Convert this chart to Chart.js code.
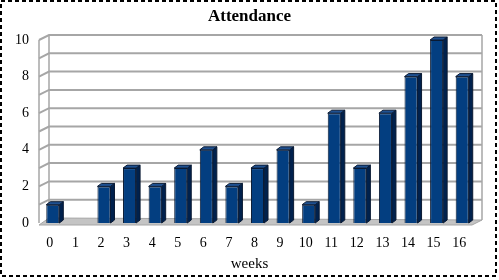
<!DOCTYPE html>
<html lang="en">
<head>
    <meta charset="UTF-8">
    <title>Attendance</title>
    <script src="https://cdn.jsdelivr.net/npm/chart.js"></script>
    <style>
        body { margin: 0; background: white; }
        #wrap { width: 499px; height: 280px; }
    </style>
</head>
<body>
    <div id="wrap"><canvas id="attendanceChart" width="499" height="280"></canvas></div>
    <script>
        // Chart data
        const weeks = ['0', '1', '2', '3', '4', '5', '6', '7', '8', '9', '10', '11', '12', '13', '14', '15', '16'];
        const attendance = [1, 0, 2, 3, 2, 3, 4, 2, 3, 4, 1, 6, 3, 6, 8, 10, 8];
        const yTicks = [0, 2, 4, 6, 8, 10];

        // depth of the walls and of the bars (pixels)
        const WALL_DX = 10, WALL_DY = -5;
        const BAR_DX = 4, BAR_DY = -3;

        const threeD = {
            id: 'threeD',
            beforeDraw(chart) {
                const ctx = chart.ctx;
                ctx.save();
                ctx.fillStyle = '#ffffff';
                ctx.fillRect(0, 0, chart.width, chart.height);
                ctx.strokeStyle = '#000000';
                ctx.lineWidth = 2;
                ctx.setLineDash([4, 3]);
                ctx.strokeRect(1, 1, 495, 275);
                ctx.restore();
            },
            beforeDatasetsDraw(chart) {
                const ctx = chart.ctx;
                const y = chart.scales.y;
                const a = chart.chartArea;
                const fl = a.left - 1, fr = a.right - 3;
                const top = y.getPixelForValue(10), bot = y.getPixelForValue(0);
                ctx.save();
                // floor
                ctx.fillStyle = '#c4c4c4';
                ctx.beginPath();
                ctx.moveTo(fl, bot + 2);
                ctx.lineTo(fr, bot + 2);
                ctx.lineTo(fr + WALL_DX, bot + WALL_DY + 2);
                ctx.lineTo(fl + WALL_DX, bot + WALL_DY);
                ctx.closePath();
                ctx.fill();
                ctx.strokeStyle = '#a6a6a6';
                ctx.lineWidth = 1;
                ctx.stroke();
                // back wall grid
                ctx.strokeStyle = '#a6a6a6';
                ctx.lineWidth = 2;
                for (let v = 1; v <= 10; v++) {
                    const py = y.getPixelForValue(v);
                    ctx.beginPath();
                    ctx.moveTo(fl, py);
                    ctx.lineTo(fl + WALL_DX, py + WALL_DY);
                    ctx.lineTo(fr + WALL_DX, py + WALL_DY);
                    ctx.stroke();
                }
                // wall edges
                ctx.lineWidth = 1.5;
                ctx.beginPath();
                ctx.moveTo(fl, top);
                ctx.lineTo(fl, bot);
                ctx.moveTo(fl + WALL_DX, top + WALL_DY);
                ctx.lineTo(fl + WALL_DX, bot + WALL_DY);
                ctx.moveTo(fr + WALL_DX, top + WALL_DY);
                ctx.lineTo(fr + WALL_DX, bot + WALL_DY + 2);
                ctx.stroke();
                ctx.restore();
            },
            afterDatasetsDraw(chart) {
                const ctx = chart.ctx;
                const meta = chart.getDatasetMeta(0);
                ctx.save();
                ctx.strokeStyle = '#0a1a33';
                ctx.lineWidth = 1;
                meta.data.forEach((bar, i) => {
                    if (!attendance[i]) return;
                    const r = bar.x + bar.width / 2;
                    const l = bar.x - bar.width / 2;
                    // right side
                    ctx.fillStyle = '#00214d';
                    ctx.beginPath();
                    ctx.moveTo(r, bar.base);
                    ctx.lineTo(r, bar.y);
                    ctx.lineTo(r + BAR_DX, bar.y + BAR_DY);
                    ctx.lineTo(r + BAR_DX, bar.base + BAR_DY);
                    ctx.closePath();
                    ctx.fill();
                    ctx.stroke();
                    // top
                    ctx.fillStyle = '#1f5191';
                    ctx.beginPath();
                    ctx.moveTo(l, bar.y);
                    ctx.lineTo(r, bar.y);
                    ctx.lineTo(r + BAR_DX, bar.y + BAR_DY);
                    ctx.lineTo(l + BAR_DX, bar.y + BAR_DY);
                    ctx.closePath();
                    ctx.fill();
                    ctx.stroke();
                });
                ctx.restore();
            }
        };

        const ctx = document.getElementById('attendanceChart').getContext('2d');
        new Chart(ctx, {
            type: 'bar',
            data: {
                labels: weeks,
                datasets: [{
                    label: 'Attendance',
                    data: attendance,
                    backgroundColor: '#033e80',
                    borderColor: '#0a1a33',
                    borderWidth: 1,
                    barPercentage: 0.51,
                    categoryPercentage: 1
                }]
            },
            options: {
                responsive: false,
                animation: false,
                layout: { padding: 0 },
                plugins: {
                    legend: { display: false },
                    tooltip: { enabled: false },
                    title: {
                        display: true,
                        text: 'Attendance',
                        color: '#000',
                        font: { family: 'Liberation Serif', size: 17, weight: 'bold' },
                        padding: { top: 6, bottom: 13.6 }
                    },
                    // axis title, kept centred on the whole picture like the original
                    subtitle: {
                        display: true,
                        position: 'bottom',
                        text: 'weeks',
                        color: '#000',
                        font: { family: 'Liberation Serif', size: 15 },
                        padding: { top: 0, bottom: 7 }
                    }
                },
                scales: {
                    x: {
                        grid: { display: false, drawTicks: false },
                        border: { display: false },
                        ticks: {
                            color: '#000',
                            font: { family: 'Liberation Serif', size: 14 },
                            padding: 12,
                            labelOffset: -3,
                            maxRotation: 0,
                            autoSkip: false
                        },
                        afterFit: s => { s.height = 32; }
                    },
                    y: {
                        min: 0,
                        max: 10,
                        afterBuildTicks: s => { s.ticks = yTicks.map(v => ({ value: v })); },
                        grid: { display: false, drawTicks: false },
                        border: { display: false },
                        ticks: {
                            color: '#000',
                            font: { family: 'Liberation Serif', size: 14 },
                            padding: 11
                        },
                        afterFit: s => { s.width = 40; }
                    },
                    // empty right margin
                    yRight: {
                        position: 'right',
                        min: 0,
                        max: 10,
                        grid: { display: false, drawTicks: false },
                        border: { display: false },
                        ticks: { display: false },
                        afterFit: s => { s.width = 24; }
                    }
                }
            },
            plugins: [threeD]
        });
    </script>
</body>
</html>
